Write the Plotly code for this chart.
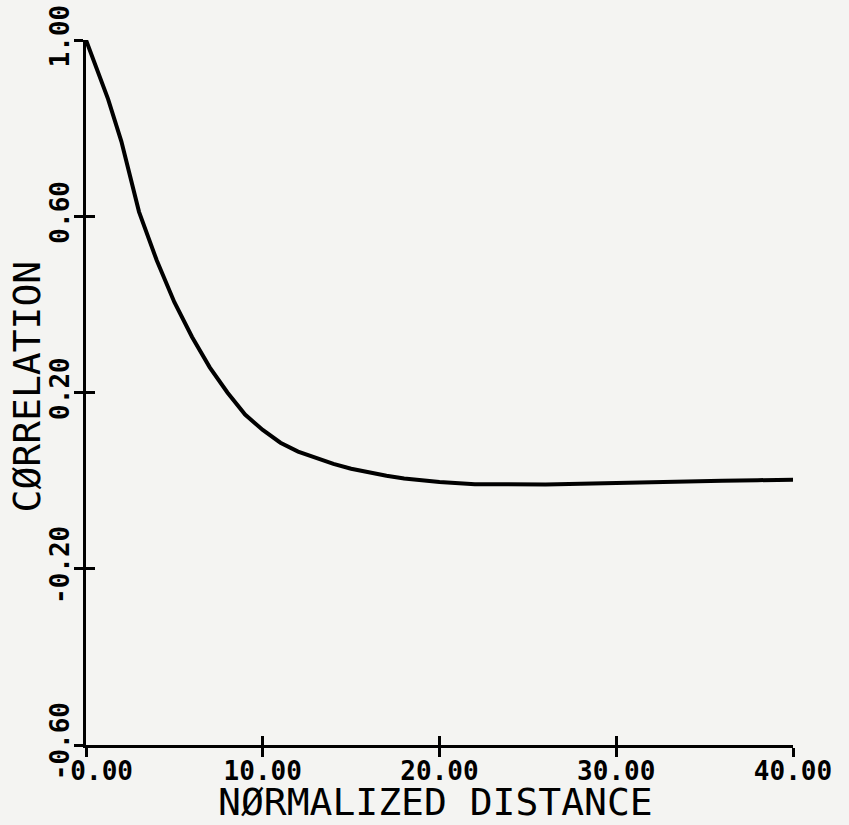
import plotly.graph_objects as go

# Data
distance = [0, 1.25, 2, 3, 4, 5, 6, 7, 8, 9, 10, 11, 12, 13, 14, 15, 16, 17, 18,
            20, 22, 24, 26, 28, 30, 32, 34, 36, 38, 40]
correlation = [1.00, 0.866, 0.77, 0.61, 0.50, 0.405, 0.326, 0.257, 0.200, 0.150,
               0.115, 0.086, 0.066, 0.051, 0.038, 0.027, 0.018, 0.011, 0.005,
               -0.003, -0.008, -0.009, -0.009, -0.007, -0.005, -0.002, -0.001,
               0.000, 0.001, 0.002]

x_ticks = [0, 10, 20, 30, 40]
x_ticktext = ["\u00a0\u00a00.00", "10.00", "20.00", "30.00", "40.00"]
y_ticks = [-0.6, -0.2, 0.2, 0.6, 1.0]
y_ticktext = ["-0.60", "-0.20", "0.20", "0.60", "1.00"]
x_title = "NØRMALIZED DISTANCE"
y_title = "CØRRELATION"

BG = "#f4f4f2"
FONT = "DejaVu Sans Mono"

fig = go.Figure()
fig.add_trace(go.Scatter(x=distance, y=correlation, mode="lines",
                         line=dict(color="black", width=4), showlegend=False,
                         hoverinfo="skip"))
# invisible copy on overlay axes so that inner tick marks are drawn
fig.add_trace(go.Scatter(x=distance, y=correlation, mode="lines", xaxis="x2", yaxis="y2",
                         line=dict(color="rgba(0,0,0,0)", width=0), showlegend=False,
                         hoverinfo="skip"))

common_axis = dict(showgrid=False, zeroline=False, showline=True, linecolor="black",
                   linewidth=3, tickcolor="black", tickwidth=3, ticklen=9,
                   automargin=False)

fig.update_layout(
    width=849, height=825,
    paper_bgcolor=BG, plot_bgcolor=BG,
    margin=dict(l=86, r=56, t=40, b=80),
    font=dict(family=FONT, color="black"),
    xaxis=dict(range=[0, 40], tickvals=x_ticks, ticktext=x_ticktext, ticks="outside",
               tickfont=dict(size=26, family=FONT, weight="bold"),
               ticklabelstandoff=-8,
               **common_axis),
    yaxis=dict(range=[-0.6, 1.0], tickvals=y_ticks, ticktext=y_ticktext, ticks="outside",
               tickangle=-90,
               tickfont=dict(size=26, family=FONT, weight="bold"),
               ticklabelstandoff=-5,
               **common_axis),
    xaxis2=dict(range=[0, 40], tickvals=x_ticks, ticks="inside", showticklabels=False,
                overlaying="x", anchor="y", side="bottom", **common_axis),
    yaxis2=dict(range=[-0.6, 1.0], tickvals=y_ticks, ticks="inside", showticklabels=False,
                overlaying="y", anchor="x", side="left", **common_axis),
    annotations=[
        dict(text=x_title, xref="paper", yref="paper", x=0.495, y=-0.081,
             xanchor="center", yanchor="middle", showarrow=False,
             font=dict(size=38, family=FONT, color="black")),
        dict(text=y_title, xref="paper", yref="paper", x=-0.083, y=0.509,
             xanchor="center", yanchor="middle", showarrow=False, textangle=-90,
             font=dict(size=38, family=FONT, color="black")),
    ],
)

fig.write_html(
    "out.html",
    config={"displayModeBar": False},
    post_script="document.body.style.margin='0';document.body.style.background='#f4f4f2';",
)
